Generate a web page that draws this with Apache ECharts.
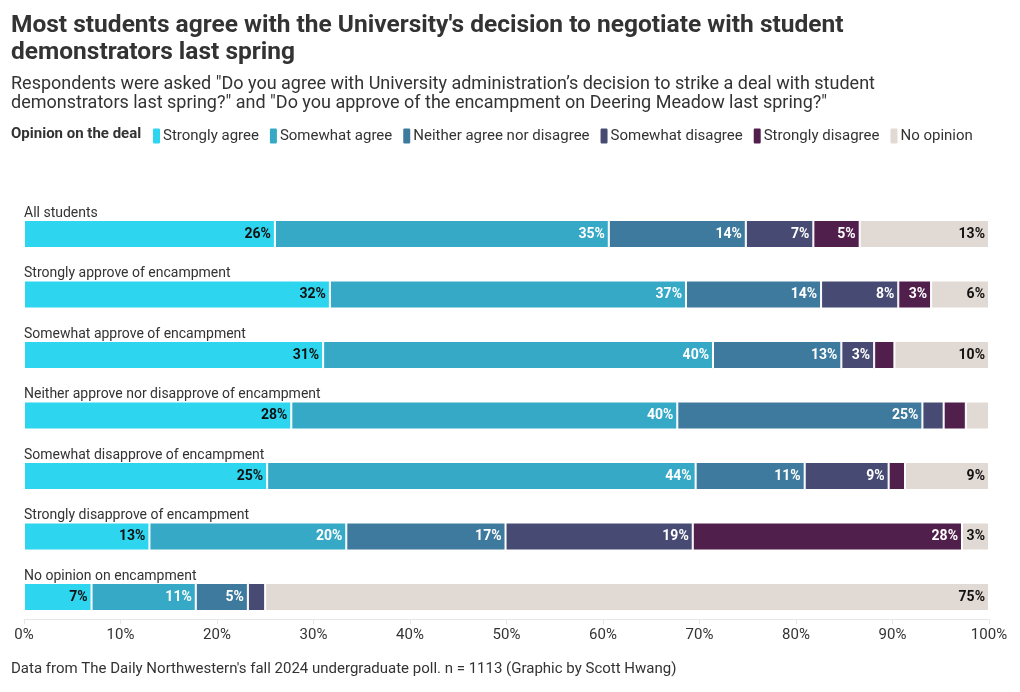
<!DOCTYPE html>
<html>
<head>
<meta charset="utf-8">
<script src="https://cdn.jsdelivr.net/npm/echarts@6/dist/echarts.min.js"></script>
<style>
html,body{margin:0;padding:0;background:#fff;}
#chart{width:1020px;height:692px;}
</style>
</head>
<body>
<div id="chart"></div>
<script>
var categories = [
  'All students',
  'Strongly approve of encampment',
  'Somewhat approve of encampment',
  'Neither approve nor disapprove of encampment',
  'Somewhat disapprove of encampment',
  'Strongly disapprove of encampment',
  'No opinion on encampment'
];
var seriesNames = ['Strongly agree','Somewhat agree','Neither agree nor disagree','Somewhat disagree','Strongly disagree','No opinion'];
var stronglyAgree    = [26.0, 31.7, 31.0, 27.7, 25.2, 13.0, 7.0];
var somewhatAgree    = [34.6, 36.9, 40.4, 40.0, 44.4, 20.4, 10.8];
var neitherAgree     = [14.2, 14.0, 13.3, 25.4, 11.3, 16.5, 5.4];
var somewhatDisagree = [7.0, 8.0, 3.4, 2.2, 8.7, 19.4, 1.8];
var stronglyDisagree = [4.8, 3.4, 2.1, 2.3, 1.7, 27.9, 0];
var noOpinion        = [13.4, 6.0, 9.8, 2.4, 8.7, 2.8, 75.0];
var xTicks = [0,10,20,30,40,50,60,70,80,90,100];

var allValues = [stronglyAgree, somewhatAgree, neitherAgree, somewhatDisagree, stronglyDisagree, noOpinion];
var colors = ['#2dd5ef','#36a9c7','#3e7a9d','#474a72','#511f4c','#e1d9d3'];
var labelColors = ['#111','#fff','#fff','#fff','#fff','#111'];
var FONT = 'Roboto';

var chart = echarts.init(document.getElementById('chart'));
var series = seriesNames.map(function(name, i){
  return {
    name: name,
    type: 'bar',
    stack: 'total',
    barWidth: 28,
    data: allValues[i],
    itemStyle: {color: colors[i], borderColor: '#fff', borderWidth: 1},
    label: {
      show: true,
      position: 'insideRight',
      distance: 4,
      color: labelColors[i],
      fontFamily: FONT,
      fontWeight: 'bold',
      fontSize: 14,
      formatter: function(p){ return p.value >= 2.5 ? Math.round(p.value) + '%' : ''; }
    },
    emphasis: {disabled: true}
  };
});

chart.setOption({
  animation: false,
  color: colors,
  textStyle: {fontFamily: FONT},
  title: [
    {
      text: "Most students agree with the University's decision to negotiate with student\ndemonstrators last spring",
      left: 11, top: 12, padding: 0,
      textStyle: {fontFamily: FONT, fontSize: 24.5, fontWeight: 'bold', color: '#333', lineHeight: 27},
      subtext: 'Respondents were asked "Do you agree with University administration\u2019s decision to strike a deal with student\ndemonstrators last spring?" and "Do you approve of the encampment on Deering Meadow last spring?"',
      subtextStyle: {fontFamily: FONT, fontSize: 18, color: '#333', lineHeight: 19},
      itemGap: 9
    },
    {
      text: 'Opinion on the deal',
      left: 11, top: 127, padding: 0,
      textStyle: {fontFamily: FONT, fontSize: 15, fontWeight: 'bold', color: '#333'}
    },
    {
      text: "Data from The Daily Northwestern's fall 2024 undergraduate poll. n = 1113 (Graphic by Scott Hwang)",
      left: 11, top: 662, padding: 0,
      textStyle: {fontFamily: FONT, fontSize: 15, fontWeight: 'normal', color: '#333'}
    }
  ],
  legend: {
    left: 151, top: 126.5, padding: 0,
    itemWidth: 9, itemHeight: 17, itemGap: 9,
    icon: 'roundRect',
    selectedMode: false,
    textStyle: {fontFamily: FONT, fontSize: 15, color: '#333', padding: [0,0,0,-3]},
    data: seriesNames
  },
  grid: {left: 24, right: 31, top: 203.75, height: 423.5, containLabel: false},
  xAxis: {
    type: 'value', min: 0, max: 100, interval: 10,
    offset: -8,
    axisLine: {show: true, lineStyle: {color: '#e6e6e6'}},
    axisTick: {show: true, length: 5, lineStyle: {color: '#e6e6e6'}},
    splitLine: {show: false},
    axisLabel: {
      fontFamily: FONT, fontSize: 15, color: '#333', margin: 8,
      customValues: xTicks,
      formatter: '{value}%'
    }
  },
  yAxis: {
    type: 'category', inverse: true, data: categories,
    axisLine: {show: false}, axisTick: {show: false},
    axisLabel: {
      inside: true, margin: 0,
      fontFamily: FONT, fontSize: 14, color: '#333',
      verticalAlign: 'bottom', align: 'left',
      padding: [0,0,14,0]
    }
  },
  series: series
});
</script>
</body>
</html>
